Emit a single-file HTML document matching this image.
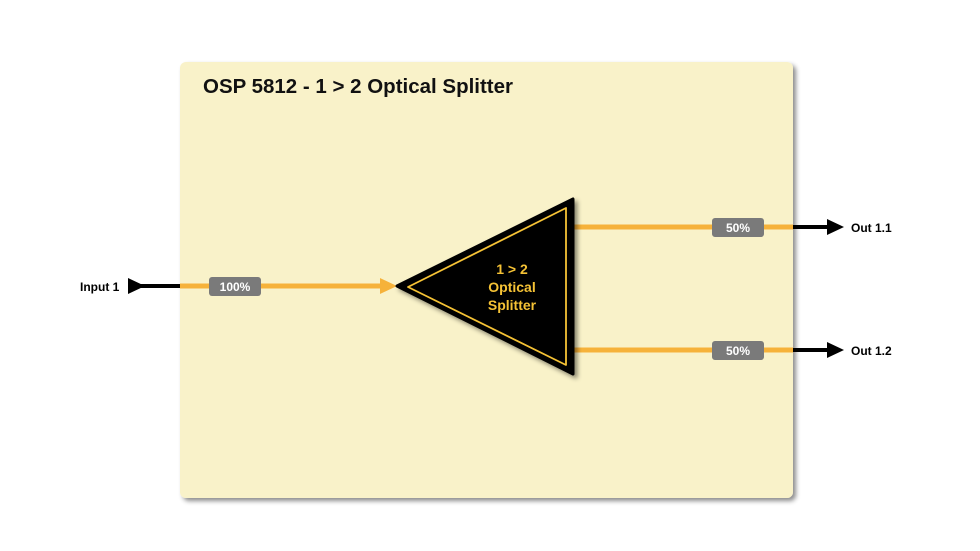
<!DOCTYPE html>
<html><head><meta charset="utf-8"><style>
html,body{margin:0;padding:0;background:#fff;}
svg{display:block;font-family:"Liberation Sans",sans-serif;}
</style></head><body>
<svg width="980" height="551" viewBox="0 0 980 551" xmlns="http://www.w3.org/2000/svg">
<defs>
<filter id="sh" x="-5%" y="-5%" width="115%" height="115%"><feDropShadow dx="3" dy="3" stdDeviation="2.5" flood-color="#000" flood-opacity="0.45"/></filter>
</defs>
<rect x="180" y="62" width="613" height="436" rx="6" fill="#f9f2c9" filter="url(#sh)"/>
<text x="203" y="93" font-size="20" font-weight="bold" fill="#111" textLength="310" lengthAdjust="spacingAndGlyphs">OSP 5812 - 1 &gt; 2 Optical Splitter</text>
<line x1="135" y1="286" x2="180" y2="286" stroke="#000" stroke-width="4"/>
<polygon points="128,278 145,286 128,294" fill="#000"/>
<text x="80" y="291" font-size="12" font-weight="bold" fill="#000">Input 1</text>
<line x1="180" y1="286" x2="382" y2="286" stroke="#f6b23a" stroke-width="5"/>
<polygon points="380,278 397,286 380,294" fill="#f6b23a"/>
<rect x="209" y="277" width="52" height="19" rx="3" fill="#7a7a7a"/>
<text x="235" y="291" font-size="12" font-weight="bold" fill="#fff" text-anchor="middle">100%</text>
<line x1="570" y1="227" x2="793" y2="227" stroke="#f6b23a" stroke-width="5"/>
<line x1="570" y1="350" x2="793" y2="350" stroke="#f6b23a" stroke-width="5"/>
<line x1="793" y1="227" x2="830" y2="227" stroke="#000" stroke-width="4"/>
<line x1="793" y1="350" x2="830" y2="350" stroke="#000" stroke-width="4"/>
<polygon points="827,219 844,227 827,235" fill="#000"/>
<polygon points="827,342 844,350 827,358" fill="#000"/>
<text x="851" y="232" font-size="12" font-weight="bold" fill="#000">Out 1.1</text>
<text x="851" y="355" font-size="12" font-weight="bold" fill="#000">Out 1.2</text>
<rect x="712" y="218" width="52" height="19" rx="3" fill="#7a7a7a"/>
<text x="738" y="232" font-size="12" font-weight="bold" fill="#fff" text-anchor="middle">50%</text>
<rect x="712" y="341" width="52" height="19" rx="3" fill="#7a7a7a"/>
<text x="738" y="355" font-size="12" font-weight="bold" fill="#fff" text-anchor="middle">50%</text>
<polygon points="397,286 573,199 573,374" fill="#000" stroke="#000" stroke-width="3" stroke-linejoin="round" filter="url(#sh)"/>
<polygon points="408,287 566,208 566,365" fill="none" stroke="#f5c235" stroke-width="1.8" stroke-linejoin="round"/>
<g font-size="14" font-weight="bold" fill="#f5c235" text-anchor="middle">
<text x="512" y="274">1 &gt; 2</text>
<text x="512" y="292">Optical</text>
<text x="512" y="310">Splitter</text>
</g>
</svg>
</body></html>
